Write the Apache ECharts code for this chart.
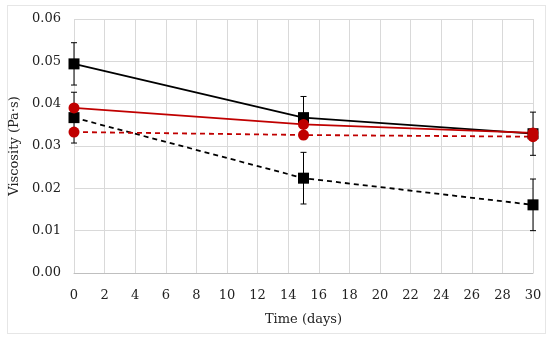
<!DOCTYPE html>
<html><head><meta charset="utf-8">
<script src="https://cdn.jsdelivr.net/npm/echarts@6/dist/echarts.min.js"></script>
<style>html,body{margin:0;padding:0;background:#fff}#c{width:550px;height:339px}
#f{position:absolute;left:7px;top:5px;width:537px;height:327px;border:1px solid #e6e6e6;pointer-events:none}</style>
</head><body><div id="c"></div><div id="f"></div>
<script>
var days = [0, 15, 30];
var blackSolid = [0.0494, 0.0367, 0.0329];
var blackSolidErr = [0.0050, 0.0050, 0.0051];
var blackDashed = [0.0367, 0.0224, 0.0161];
var blackDashedErr = [0.0060, 0.0061, 0.0061];
var redSolid = [0.0390, 0.0351, 0.0331];
var redSolidErr = [0.0005, 0.0005, 0.0005];
var redDashed = [0.0333, 0.0326, 0.0322];
var redDashedErr = [0.0005, 0.0005, 0.0005];

var FONT = 'DejaVu Serif';
function pts(v){ return days.map(function(d,i){return [d, v[i]];}); }
function errData(v,e){ return days.map(function(d,i){return [d, v[i]-e[i], v[i]+e[i]];}); }
function errSeries(v,e,color){
  return {type:'custom', data: errData(v,e), z:1, silent:true,
    renderItem:function(params, api){
      var x = api.value(0);
      var lo = api.coord([x, api.value(1)]);
      var hi = api.coord([x, api.value(2)]);
      var w = 3;
      var st = {stroke: color, lineWidth: 1};
      return {type:'group', children:[
        {type:'line', shape:{x1:lo[0],y1:lo[1],x2:hi[0],y2:hi[1]}, style:st},
        {type:'line', shape:{x1:lo[0]-w,y1:lo[1],x2:lo[0]+w,y2:lo[1]}, style:st},
        {type:'line', shape:{x1:hi[0]-w,y1:hi[1],x2:hi[0]+w,y2:hi[1]}, style:st}
      ]};
    }};
}
function lineSeries(v,color,dash,symbol){
  return {type:'line', data: pts(v), symbol: symbol, symbolSize: 11,
    itemStyle:{color:color}, lineStyle:{color:color, width:1.8, type: dash?[5,4]:'solid'}, z:3};
}
var chart = echarts.init(document.getElementById('c'), null, {renderer:'canvas'});
chart.setOption({
  animation:false,
  grid:{left:74, right:17, top:19, bottom:66},
  xAxis:{type:'value', min:0, max:30, interval:2,
    name:'Time (days)', nameLocation:'middle', nameGap:40,
    nameTextStyle:{fontFamily:FONT, fontSize:13, color:'#222'},
    axisLine:{show:true, onZero:false, lineStyle:{color:'#bfbfbf'}},
    axisTick:{show:false},
    axisLabel:{fontFamily:FONT, fontSize:13, color:'#222', margin:16},
    splitLine:{show:true, lineStyle:{color:'#d9d9d9'}}},
  yAxis:{type:'value', min:0, max:0.06, interval:0.01,
    name:'Viscosity (Pa·s)', nameLocation:'middle', nameGap:50,
    nameTextStyle:{fontFamily:FONT, fontSize:13, color:'#222'},
    axisLine:{show:false}, axisTick:{show:false},
    axisLabel:{fontFamily:FONT, fontSize:13, color:'#222', margin:13,
      formatter:function(v){return v.toFixed(2);}},
    splitLine:{show:true, lineStyle:{color:'#d9d9d9'}}},
  series:[
    errSeries(blackSolid, blackSolidErr, '#000'),
    errSeries(blackDashed, blackDashedErr, '#000'),
    errSeries(redSolid, redSolidErr, '#c00000'),
    errSeries(redDashed, redDashedErr, '#c00000'),
    lineSeries(blackSolid, '#000', false, 'rect'),
    lineSeries(blackDashed, '#000', true, 'rect'),
    lineSeries(redSolid, '#c00000', false, 'circle'),
    lineSeries(redDashed, '#c00000', true, 'circle')
  ]
});
</script></body></html>
